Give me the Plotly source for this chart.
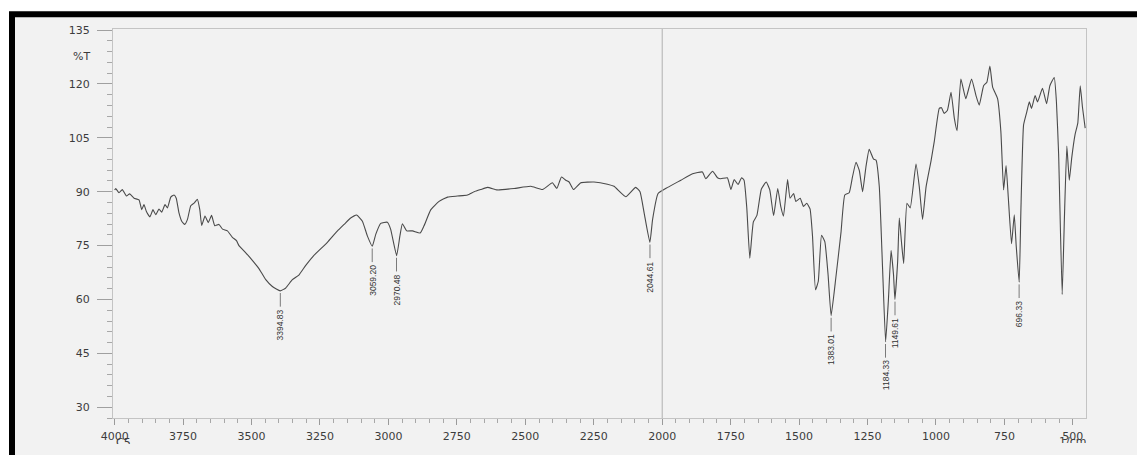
import numpy as np
import plotly.graph_objects as go

# ---- data ----
wavenumber = [4000, 3996, 3984, 3972, 3957, 3945, 3929, 3911, 3901, 3893, 3884, 3871, 3860, 3850,
              3838, 3828, 3816, 3807, 3795, 3783, 3775, 3765, 3755, 3744, 3734, 3722, 3710, 3698,
              3689, 3682, 3670, 3658, 3646, 3634, 3619, 3606, 3588, 3570, 3555, 3546, 3521, 3497,
              3473, 3448, 3424, 3395, 3375, 3351, 3327, 3302, 3272, 3223, 3186, 3162, 3138, 3116,
              3095, 3077, 3059, 3046, 3028, 3004, 2992, 2970, 2958, 2949, 2933, 2912, 2884, 2870,
              2845, 2815, 2784, 2748, 2711, 2687, 2663, 2638, 2602, 2541, 2480, 2437, 2401, 2385,
              2368, 2352, 2340, 2324, 2297, 2249, 2200, 2176, 2133, 2097, 2081, 2066, 2045, 2035,
              2015, 1980, 1932, 1889, 1853, 1841, 1816, 1798, 1786, 1762, 1749, 1737, 1723, 1710,
              1701, 1691, 1680, 1667, 1654, 1638, 1620, 1607, 1593, 1578, 1567, 1557, 1542, 1533,
              1520, 1512, 1496, 1484, 1472, 1460, 1451, 1440, 1430, 1418, 1406, 1394, 1383, 1366,
              1347, 1333, 1317, 1305, 1292, 1280, 1268, 1256, 1244, 1228, 1219, 1207, 1195, 1184,
              1174, 1164, 1155, 1150, 1140, 1134, 1126, 1118, 1106, 1094, 1073, 1061, 1049, 1036,
              1018, 1006, 988, 980, 970, 958, 945, 933, 923, 909, 891, 870, 854, 842, 826, 814,
              803, 793, 775, 763, 753, 744, 736, 724, 714, 707, 696, 690, 680, 668, 659, 651, 638,
              629, 611, 596, 584, 568, 560, 552, 539, 531, 522, 513, 504, 492, 482, 473, 465, 455]
transmittance = [90.5, 90.9, 89.7, 90.6, 88.8, 89.4, 88.2, 87.7, 85.0, 86.4, 84.5, 83.0, 85.0, 83.6,
                 85.2, 84.3, 86.4, 85.5, 88.5, 89.1, 88.2, 84.1, 81.8, 80.9, 82.3, 86.1, 86.8, 87.9,
                 85.0, 80.6, 83.2, 81.4, 83.4, 80.5, 80.9, 79.6, 79.1, 77.3, 76.4, 75.0, 73.0, 70.9,
                 68.6, 65.5, 63.6, 62.4, 63.2, 65.5, 66.8, 69.5, 72.3, 75.9, 79.1, 80.9, 82.7, 83.5,
                 81.8, 77.7, 74.8, 78.2, 81.2, 81.5, 79.6, 72.2, 77.7, 81.1, 79.1, 79.1, 78.5, 80.5,
                 85.0, 87.3, 88.5, 88.8, 89.1, 90.0, 90.6, 91.2, 90.5, 90.9, 91.5, 90.6, 92.5, 90.9,
                 94.1, 93.2, 92.7, 90.6, 92.5, 92.7, 92.1, 91.5, 88.6, 91.2, 90.0, 84.1, 75.9, 82.3,
                 89.5, 91.2, 93.2, 95.0, 95.5, 93.6, 95.7, 93.9, 93.6, 93.9, 90.6, 93.4, 92.0, 93.9,
                 93.2, 85.5, 71.5, 81.6, 83.4, 90.7, 92.7, 90.5, 83.3, 90.9, 85.9, 83.2, 93.4, 88.2,
                 89.5, 87.3, 88.2, 85.9, 86.8, 85.2, 77.7, 62.7, 65.0, 77.9, 76.1, 66.8, 55.5, 65.9,
                 78.6, 89.1, 89.7, 94.1, 98.2, 95.9, 90.0, 96.8, 101.8, 99.1, 98.8, 91.4, 68.6, 48.2,
                 59.5, 73.6, 66.8, 60.0, 70.5, 82.7, 76.0, 70.0, 86.8, 85.5, 97.7, 91.4, 82.3, 91.4,
                 98.6, 104.1, 113.2, 113.4, 111.8, 112.7, 117.7, 110.5, 107.0, 121.4, 115.9, 121.4, 116.8, 114.1, 119.5, 120.5,
                 125.0, 119.1, 115.9, 106.8, 90.5, 97.3, 88.6, 75.5, 83.6, 75.0, 64.8, 84.1, 108.6, 112.3, 115.0, 113.2, 116.8,
                 115.0, 118.8, 114.5, 119.5, 121.8, 115.0, 100.5, 61.4, 82.3, 102.7, 93.2, 99.5, 105.9, 109.1, 119.5, 113.6, 107.7]

peak_wn = [3394.83, 3059.20, 2970.48, 2044.61, 1383.01, 1184.33, 1149.61, 696.33]

x_ticks = [4000, 3750, 3500, 3250, 3000, 2750, 2500, 2250, 2000, 1750, 1500, 1250, 1000, 750, 500]
y_ticks = [30, 45, 60, 75, 90, 105, 120, 135]
sample_name = "C5"
x_unit = "1/cm"
y_unit = "%T"

# ---- figure ----
W, H = 1137, 455
L, R, T, B = 113, 51, 29, 28
pw, ph = W - L - R, H - T - B
X_RANGE = [4006, 452]
Y_RANGE = [27.0, 135.3]

def px(xp):
    return (xp - L) / pw

def py(yp):
    return (H - B - yp) / ph

LINE = "#4a4a4a"
TXT = "#3c3c3c"
FONT = "DejaVu Sans"
LABEL_FONT = "Liberation Sans Narrow, Liberation Sans, Arial, sans-serif"

fig = go.Figure()
fig.add_trace(go.Scatter(x=wavenumber, y=transmittance, mode="lines",
                         line=dict(color=LINE, width=1.1, shape="spline", smoothing=0.4),
                         hoverinfo="x+y", showlegend=False))

shapes = []
# frame background and thick black border (top/left visible)
shapes.append(dict(type="rect", xref="paper", yref="paper", layer="below",
                   x0=px(12), x1=px(W + 20), y0=py(H + 20), y1=py(14),
                   fillcolor="#f2f2f2", line=dict(color="black", width=6)))
# vertical line at 2000
shapes.append(dict(type="line", xref="x", yref="paper", x0=2000, x1=2000, y0=0, y1=1,
                   line=dict(color="#b0b0b0", width=1)))

annotations = []
arr_wn = np.array(wavenumber, dtype=float)
arr_t = np.array(transmittance, dtype=float)
for w in peak_wn:
    tval = float(arr_t[np.argmin(np.abs(arr_wn - w))])
    shapes.append(dict(type="line", xref="x", yref="y", x0=w, x1=w,
                       y0=tval - 0.6, y1=tval - 4.4, line=dict(color="#7a7a7a", width=1)))
    annotations.append(dict(x=w, y=tval - 4.4, xref="x", yref="y", text=f"{w:.2f}",
                            showarrow=False, textangle=-90, xanchor="center", yanchor="top",
                            yshift=-1, font=dict(family=LABEL_FONT, size=8.5, color="#333333")))

annotations.append(dict(x=px(92), y=127.6, xref="paper", yref="y", text=y_unit, showarrow=False,
                        xanchor="right", yanchor="middle", font=dict(family=FONT, size=11, color=TXT)))
annotations.append(dict(x=x_ticks[0], y=py(444), xref="x", yref="paper", text=sample_name,
                        showarrow=False, xanchor="center", yanchor="top", xshift=9,
                        height=8, valign="top", borderpad=0,
                        font=dict(family=FONT, size=11, color=TXT)))
annotations.append(dict(x=x_ticks[-1], y=py(443), xref="x", yref="paper", text=x_unit,
                        showarrow=False, xanchor="center", yanchor="top", xshift=0,
                        height=8, valign="top", borderpad=0,
                        font=dict(family=FONT, size=11, color=TXT)))

fig.update_layout(
    width=W, height=H,
    margin=dict(l=L, r=R, t=T, b=B, pad=0),
    paper_bgcolor="white",
    plot_bgcolor="rgba(0,0,0,0)",
    shapes=shapes,
    annotations=annotations,
    showlegend=False,
)
fig.update_xaxes(range=X_RANGE, tickvals=x_ticks, ticktext=[str(v) for v in x_ticks],
                 ticks="outside", ticklen=6, tickcolor="#9a9a9a", tickwidth=1,
                 minor=dict(dtick=50, tick0=0, ticks="outside", ticklen=4, tickcolor="#a8a8a8"),
                 showgrid=False, zeroline=False, showline=True, linecolor="#c4c4c4", linewidth=1,
                 mirror=True, tickfont=dict(family=FONT, size=11, color=TXT), ticklabelstandoff=2)
fig.update_yaxes(range=Y_RANGE, tickvals=y_ticks, ticktext=[str(v) for v in y_ticks],
                 ticks="outside", ticklen=15, tickcolor="#a0a0a0", tickwidth=1,
                 minor=dict(dtick=3, tick0=0, ticks="outside", ticklen=5, tickcolor="#a8a8a8"),
                 showgrid=False, zeroline=False, showline=True, linecolor="#c4c4c4", linewidth=1,
                 mirror=True, tickfont=dict(family=FONT, size=11, color=TXT), ticklabelstandoff=5)

fig.write_html("out.html", config={"displayModeBar": False},
               post_script="document.body.style.margin='0';document.body.style.overflow='hidden';")
